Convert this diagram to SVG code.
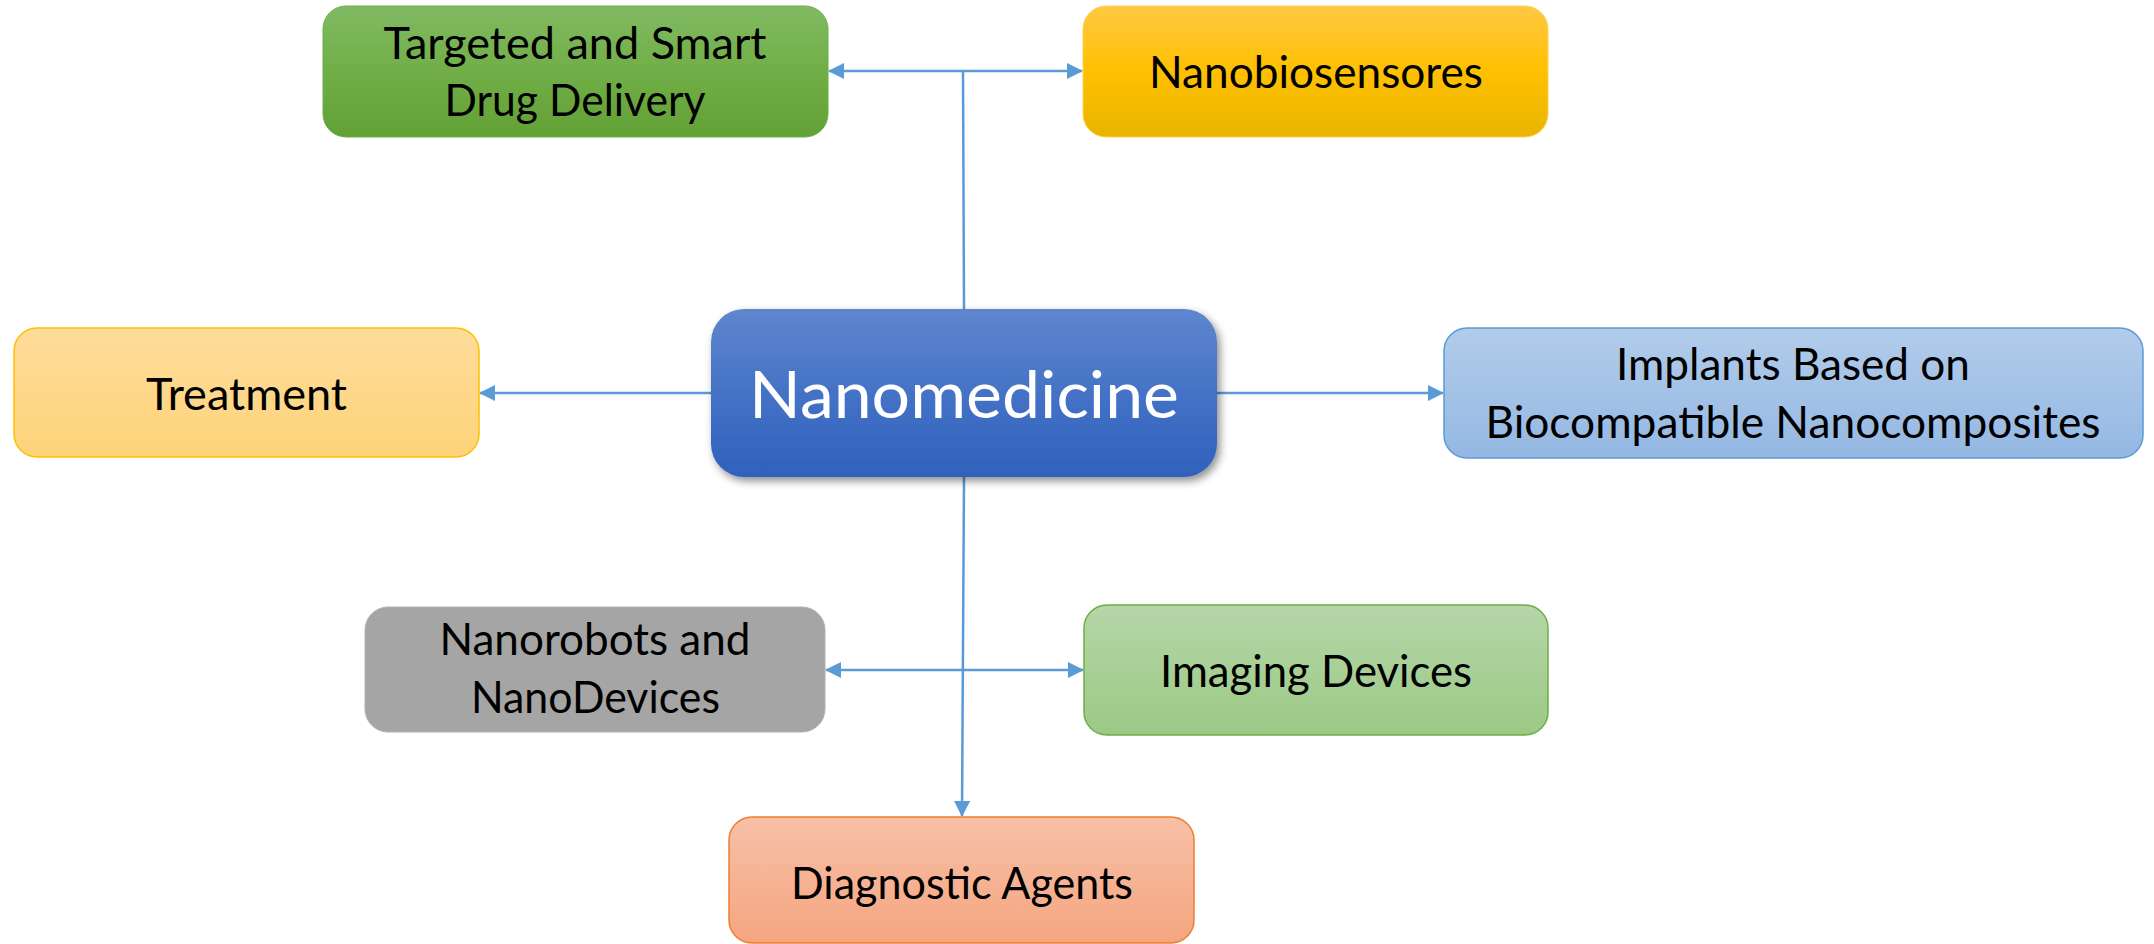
<svg xmlns="http://www.w3.org/2000/svg" width="2154" height="944" viewBox="0 0 2154 944">
<style>
.lbl{font-family:Lato,"Open Sans","Liberation Sans",sans-serif;font-size:44px;fill:#000;text-anchor:middle}
.big{font-family:Lato,"Open Sans","Liberation Sans",sans-serif;font-size:66px;fill:#fff;text-anchor:middle}
.con{stroke:#5B9BD5;stroke-width:2.5;fill:none}
</style>
<defs>
<linearGradient id="gGreen" x1="0" y1="0" x2="0" y2="1"><stop offset="0" stop-color="#81BA63"/><stop offset="0.5" stop-color="#71AE47"/><stop offset="1" stop-color="#62A136"/></linearGradient>
<linearGradient id="gYellow" x1="0" y1="0" x2="0" y2="1"><stop offset="0" stop-color="#FFC844"/><stop offset="0.5" stop-color="#FFC000"/><stop offset="1" stop-color="#E8B400"/></linearGradient>
<linearGradient id="gTreat" x1="0" y1="0" x2="0" y2="1"><stop offset="0" stop-color="#FEDC9A"/><stop offset="1" stop-color="#FED37A"/></linearGradient>
<linearGradient id="gBlue" x1="0" y1="0" x2="0" y2="1"><stop offset="0" stop-color="#5F86CD"/><stop offset="0.5" stop-color="#4572C6"/><stop offset="1" stop-color="#2F61BC"/></linearGradient>
<linearGradient id="gImpl" x1="0" y1="0" x2="0" y2="1"><stop offset="0" stop-color="#B2CCEA"/><stop offset="1" stop-color="#94B8E3"/></linearGradient>
<linearGradient id="gImg" x1="0" y1="0" x2="0" y2="1"><stop offset="0" stop-color="#B6D6A8"/><stop offset="1" stop-color="#9BC985"/></linearGradient>
<linearGradient id="gDiag" x1="0" y1="0" x2="0" y2="1"><stop offset="0" stop-color="#F7C0A7"/><stop offset="1" stop-color="#F5A580"/></linearGradient>
<filter id="shadow" x="-10%" y="-10%" width="125%" height="130%"><feDropShadow dx="3" dy="4" stdDeviation="4" flood-color="#000" flood-opacity="0.45"/></filter>
<marker id="arr" markerUnits="userSpaceOnUse" markerWidth="16" markerHeight="16" viewBox="0 0 16 16" refX="15" refY="8" orient="auto-start-reverse"><path d="M0,0 L16,8 L0,16 Z" fill="#5B9BD5"/></marker>
</defs>
<g id="connectors">
<path class="con" d="M964,309 L963,71"/>
<path class="con" d="M963,71 L829,71" marker-end="url(#arr)"/>
<path class="con" d="M963,71 L1082,71" marker-end="url(#arr)"/>
<path class="con" d="M711,393 L480,393" marker-end="url(#arr)"/>
<path class="con" d="M1217,393 L1443,393" marker-end="url(#arr)"/>
<path class="con" d="M964,477 L962,816" marker-end="url(#arr)"/>
<path class="con" d="M963,670 L826,670" marker-end="url(#arr)"/>
<path class="con" d="M963,670 L1083,670" marker-end="url(#arr)"/>
</g>
<g id="targeted">
<rect x="323" y="6" width="505" height="131" rx="23" fill="url(#gGreen)" stroke="#70AD47" stroke-width="1"/>
<text class="lbl" x="575" y="59" textLength="383" lengthAdjust="spacingAndGlyphs">Targeted and Smart</text>
<text class="lbl" x="575" y="116" textLength="261" lengthAdjust="spacingAndGlyphs">Drug Delivery</text>
</g>
<g id="nanobiosensores">
<rect x="1083" y="6" width="465" height="131" rx="23" fill="url(#gYellow)" stroke="#FFD24D" stroke-width="1"/>
<text class="lbl" x="1316" y="88" textLength="334" lengthAdjust="spacingAndGlyphs">Nanobiosensores</text>
</g>
<g id="treatment">
<rect x="14" y="328" width="465" height="129" rx="23" fill="url(#gTreat)" stroke="#FFC000" stroke-width="1.5"/>
<text class="lbl" x="246.5" y="410" textLength="201" lengthAdjust="spacingAndGlyphs">Treatment</text>
</g>
<g id="nanomedicine">
<rect x="711" y="309" width="506" height="168" rx="33" fill="url(#gBlue)" filter="url(#shadow)"/>
<text class="big" x="964" y="418" textLength="430" lengthAdjust="spacingAndGlyphs">Nanomedicine</text>
</g>
<g id="implants">
<rect x="1444" y="328" width="699" height="130" rx="23" fill="url(#gImpl)" stroke="#5B9BD5" stroke-width="1.5"/>
<text class="lbl" x="1793" y="380" textLength="354" lengthAdjust="spacingAndGlyphs">Implants Based on</text>
<text class="lbl" x="1793" y="438" textLength="615" lengthAdjust="spacingAndGlyphs">Biocompatible Nanocomposites</text>
</g>
<g id="nanorobots">
<rect x="365" y="607" width="460" height="125" rx="23" fill="#A5A5A5" stroke="#B0B0B0" stroke-width="1"/>
<text class="lbl" x="595" y="655" textLength="311" lengthAdjust="spacingAndGlyphs">Nanorobots and</text>
<text class="lbl" x="595.5" y="713" textLength="249" lengthAdjust="spacingAndGlyphs">NanoDevices</text>
</g>
<g id="imaging">
<rect x="1084" y="605" width="464" height="130" rx="23" fill="url(#gImg)" stroke="#70AD47" stroke-width="1.5"/>
<text class="lbl" x="1316" y="687" textLength="312" lengthAdjust="spacingAndGlyphs">Imaging Devices</text>
</g>
<g id="diagnostic">
<rect x="729" y="817" width="465" height="126" rx="23" fill="url(#gDiag)" stroke="#ED7D31" stroke-width="1.5"/>
<text class="lbl" x="962" y="899" textLength="342" lengthAdjust="spacingAndGlyphs">Diagnostic Agents</text>
</g>
</svg>
